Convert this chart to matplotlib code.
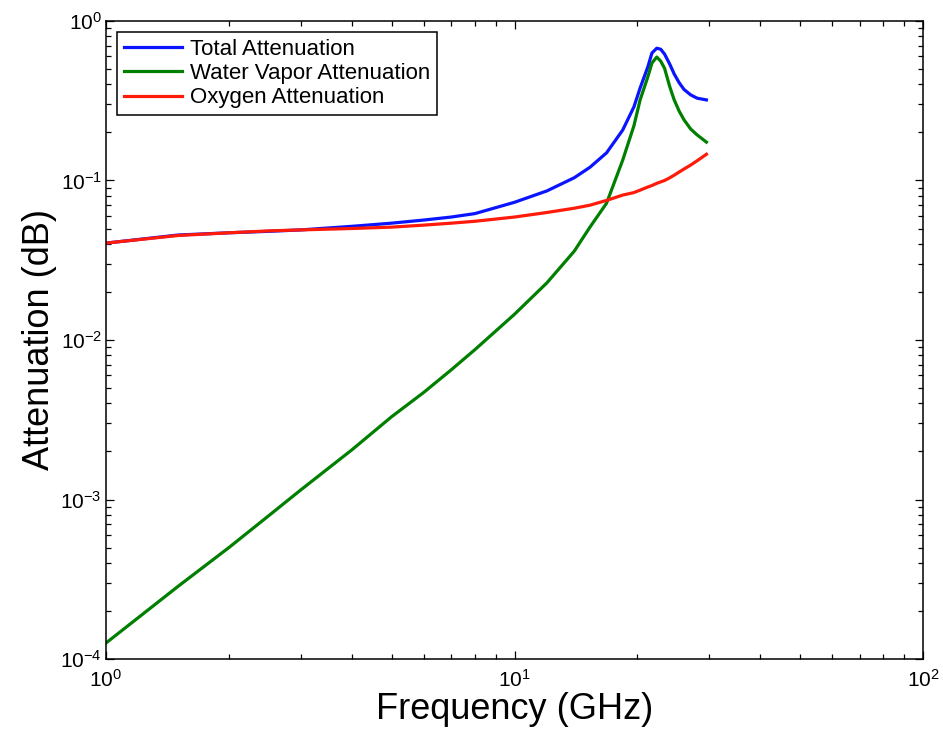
import numpy as np
import matplotlib
matplotlib.use("Agg")
import matplotlib.pyplot as plt

# values (GHz, dB)
freq = [1, 1.5, 2, 2.5, 3, 4, 5, 6, 7, 8, 10, 12, 14, 15.3, 16.8, 18.4, 19.6, 20.3,
        21.2, 21.7, 22.3, 22.8, 23.3, 24, 24.6, 25.3, 26, 27, 28, 29.5]

total_att = [0.0405, 0.0455, 0.047, 0.048, 0.049, 0.0516, 0.054, 0.0565, 0.059, 0.062,
             0.073, 0.086, 0.104, 0.121, 0.149, 0.207, 0.289, 0.38,
             0.515, 0.63, 0.675, 0.665, 0.62, 0.535, 0.465, 0.41, 0.372, 0.344, 0.328, 0.32]

water_att = [1.26e-4, 2.85e-4, 5.0e-4, 7.9e-4, 1.15e-3, 2.05e-3, 3.3e-3, 4.7e-3, 6.5e-3, 8.7e-3,
             0.0145, 0.0228, 0.036, 0.051, 0.072, 0.134, 0.22, 0.32,
             0.446, 0.545, 0.594, 0.56, 0.505, 0.386, 0.32, 0.272, 0.24, 0.21, 0.193, 0.174]

oxygen_att = [0.0405, 0.0452, 0.047, 0.0483, 0.049, 0.050, 0.051, 0.0525, 0.054, 0.0555,
              0.059, 0.063, 0.067, 0.070, 0.075, 0.081, 0.084, 0.087,
              0.091, 0.093, 0.096, 0.098, 0.100, 0.104, 0.108, 0.113, 0.118, 0.125, 0.133, 0.146]

plt.rcParams["font.family"] = ["Liberation Sans", "DejaVu Sans"]

fig = plt.figure(figsize=(9.43, 7.36), dpi=100)
ax = fig.add_axes([0.1124, 0.1046, 0.8664, 0.8669])

ax.loglog(freq, total_att, color="#0a14ff", lw=2.3, label="Total Attenuation")
ax.loglog(freq, water_att, color="#007f00", lw=2.3, label="Water Vapor Attenuation")
ax.loglog(freq, oxygen_att, color="#ff1a0a", lw=2.3, label="Oxygen Attenuation")

ax.set_xlim(1, 100)
ax.set_ylim(1e-4, 1)
ax.set_xlabel("Frequency (GHz)", fontsize=26, labelpad=1)
ax.set_ylabel("Attenuation (dB)", fontsize=26, labelpad=2)

ax.tick_params(which="both", direction="in", top=True, right=True, labelsize=15, width=0.9)
ax.tick_params(which="major", length=6)
ax.tick_params(which="minor", length=3.5)
ax.tick_params(axis="x", which="major", pad=7)
ax.tick_params(axis="y", which="major", pad=3)
for s in ax.spines.values():
    s.set_linewidth(1.1)

leg = ax.legend(loc="upper left", fontsize=16, fancybox=False, framealpha=1,
                edgecolor="black", handlelength=2.6, handletextpad=0.4,
                borderpad=0.3, labelspacing=0.15, borderaxespad=0.5)
leg.get_frame().set_linewidth(1.1)

fig.savefig("out.png", dpi=100)
